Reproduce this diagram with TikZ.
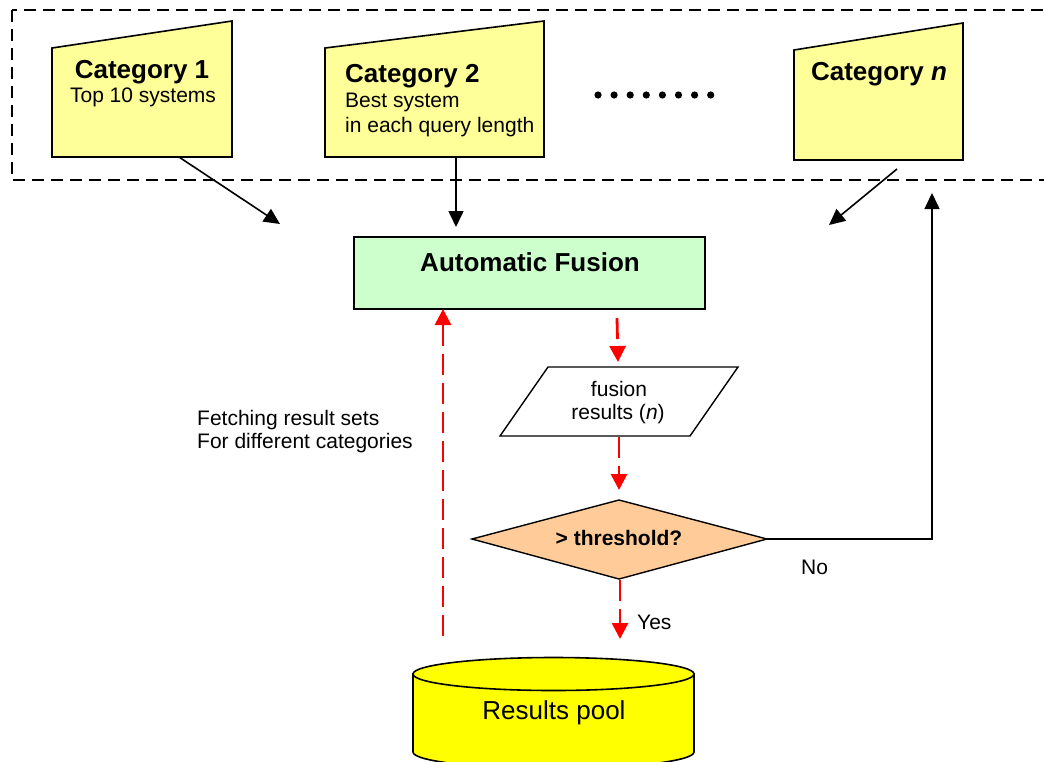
\documentclass[tikz,border=0pt]{standalone}
\usepackage{fontspec}
\setmainfont{Liberation Sans}
\usetikzlibrary{arrows.meta}
\definecolor{catyellow}{HTML}{FFFF99}
\definecolor{fusegreen}{HTML}{CCFFCC}
\definecolor{peach}{HTML}{FFCC99}
\definecolor{poolyellow}{HTML}{FFFF00}
\definecolor{flowred}{HTML}{FF0000}
\begin{document}
\begin{tikzpicture}[x=1pt,y=-1pt,
  hd/.style={font=\fontsize{26}{30}\selectfont\bfseries, inner sep=0pt, anchor=base},
  tx/.style={font=\fontsize{21}{24}\selectfont, inner sep=0pt, anchor=base},
  txb/.style={font=\fontsize{21}{24}\selectfont\bfseries, inner sep=0pt, anchor=base},
  shapeline/.style={draw=black, line width=1.6pt, line join=miter},
  blkarrow/.style={draw=black, line width=1.6pt, -{Triangle[length=16pt,width=15pt]}},
  redarrow/.style={draw=flowred, line width=2.8pt, dash pattern=on 21pt off 8pt, -{Triangle[length=16pt,width=16pt]}},
  dashbox/.style={draw=black, line width=2pt, dash pattern=on 12pt off 7pt},
]
\useasboundingbox (0,0) rectangle (1044,761);
\clip (0,0) rectangle (1044,761);
\fill[white] (0,0) rectangle (1044,761);

% dashed frame around categories
\draw[dashbox] (12,10) rectangle (1070,180);

% Category 1
\draw[shapeline, fill=catyellow] (52,48) -- (232,21) -- (232,157) -- (52,157) -- cycle;
\node[hd] (c1title) at (142,78) {Category 1};
\node[tx] (c1sub) at (143,102) {Top 10 systems};

% Category 2
\draw[shapeline, fill=catyellow] (325,48) -- (544,21) -- (544,157) -- (325,157) -- cycle;
\node[hd, anchor=base west] (c2title) at (345,82) {Category 2};
\node[tx, anchor=base west] (c2sub1) at (345,107) {Best system};
\node[tx, anchor=base west] (c2sub2) at (345,132) {in each query length};

% dots
\foreach \i in {0,...,7} {
  \fill[black] (598+16.1*\i,95) circle[radius=3.6pt];
}

% Category n
\draw[shapeline, fill=catyellow] (794,50) -- (963,23) -- (963,160) -- (794,160) -- cycle;
\node[hd] (cntitle) at (879,80) {Category \textit{n}};

% Automatic Fusion
\node[shapeline, fill=fusegreen, minimum width=351pt, minimum height=72pt, inner sep=0pt] (af) at (529.5,273) {};
\node[hd] (aftext) at (530,271) {Automatic Fusion};

% fusion results parallelogram
\draw[shapeline, line width=1.4pt, fill=white] (548,367) -- (738,367) -- (690,436) -- (500,436) -- cycle;
\node[tx] (fr1) at (619,396) {fusion};
\node[tx] (fr2) at (618,419) {results (\textit{n})};

% threshold diamond
\draw[shapeline, line width=1.4pt, fill=peach] (472,539) -- (619,500) -- (767,539) -- (619,579) -- cycle;
\node[txb] (thr) at (619,545) {> threshold?};

% Results pool cylinder
\draw[shapeline, line width=1.6pt, fill=poolyellow] (413,674) -- (413,752)
  arc[start angle=180, end angle=0, x radius=140.5, y radius=16.5] -- (694,674) -- cycle;
\draw[shapeline, line width=1.6pt, fill=poolyellow] (553.5,674) ellipse[x radius=140.5, y radius=16.5];
\node[tx, font=\fontsize{26}{30}\selectfont] (pool) at (554,719) {Results pool};

% labels
\node[tx, anchor=base west] (fetch1) at (197,425) {Fetching result sets};
\node[tx, anchor=base west] (fetch2) at (197,448) {For different categories};
\node[tx, anchor=base west] (yes) at (637,629) {Yes};
\node[tx, anchor=base west] (no) at (801,574) {No};

% connector end points
\coordinate (c1out) at (179,157);
\coordinate (c1in) at (280,224);
\coordinate (c2out) at (456,157);
\coordinate (c2in) at (456,227);
\coordinate (cnout) at (897,169);
\coordinate (cnin) at (829,225);
\coordinate (thrright) at (767,539);
\coordinate (loopin) at (932,193);
\coordinate (afout) at (617,318);
\coordinate (frin) at (618,362);
\coordinate (frout) at (619,437);
\coordinate (thrin) at (619,490);
\coordinate (throut) at (620,580);
\coordinate (poolin) at (620,639);
\coordinate (poolout) at (443,636);
\coordinate (afin) at (443,309);

% black connectors
\draw[blkarrow] (c1out) -- (c1in);
\draw[blkarrow] (c2out) -- (c2in);
\draw[blkarrow] (cnout) -- (cnin);
\draw[blkarrow] (thrright) -| (loopin);

% red dashed connectors
\draw[redarrow] (afout) -- (frin);
\draw[redarrow] (frout) -- (thrin);
\draw[redarrow] (throut) -- (poolin);
\draw[redarrow] (poolout) -- (afin);
\end{tikzpicture}
\end{document}
